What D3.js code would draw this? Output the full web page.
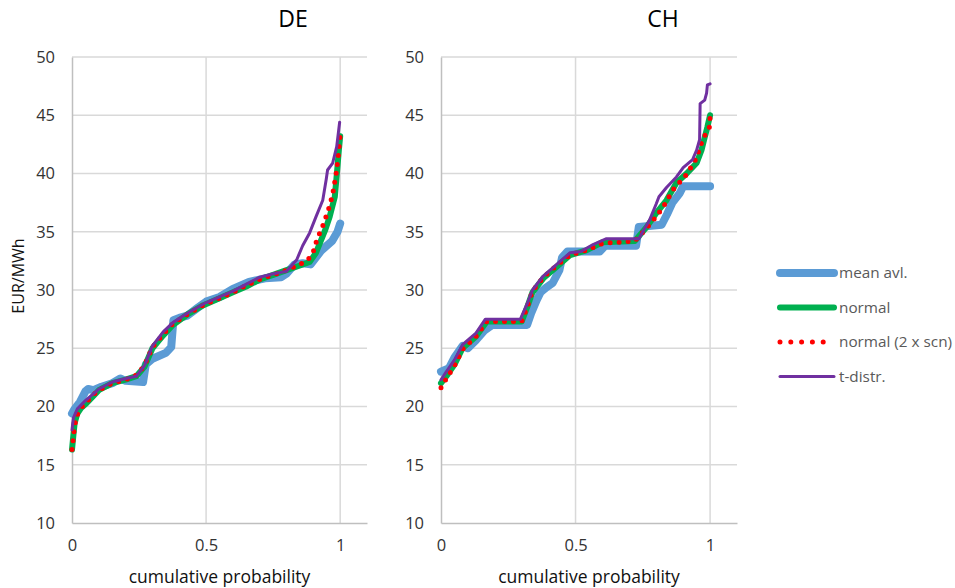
<!DOCTYPE html>
<html>
<head>
<meta charset="utf-8">
<script src="https://cdn.jsdelivr.net/npm/d3@7"></script>
<style>
  html, body { margin: 0; padding: 0; background: #fff; }
  svg { display: block; font-family: "Open Sans", "Noto Sans", sans-serif; }
</style>
</head>
<body>
<div id="chart"></div>
<script>
// cumulative probability vs price, [p, EUR/MWh]
const deMean = [[0,19.4],[0.01,19.8],[0.03,20.4],[0.05,21.3],[0.06,21.5],[0.08,21.4],[0.11,21.7],[0.15,22.0],[0.18,22.4],[0.2,22.2],[0.265,22.1],[0.275,23.6],[0.3,24.1],[0.35,24.6],[0.37,25.1],[0.378,27.4],[0.4,27.6],[0.43,27.8],[0.47,28.5],[0.5,29.0],[0.55,29.4],[0.6,30.1],[0.66,30.7],[0.72,31.0],[0.78,31.1],[0.8,31.4],[0.83,32.2],[0.86,32.3],[0.89,32.2],[0.93,33.4],[0.97,34.2],[0.99,35.0],[1.0,35.7]]
const deNormal = [[0,16.3],[0.005,17.5],[0.01,18.6],[0.02,19.4],[0.035,19.9],[0.055,20.3],[0.08,20.9],[0.1,21.4],[0.15,22.0],[0.2,22.3],[0.24,22.6],[0.27,23.4],[0.3,25.0],[0.34,26.1],[0.376,27.0],[0.43,27.9],[0.49,28.7],[0.55,29.3],[0.6,29.8],[0.65,30.3],[0.7,30.9],[0.75,31.3],[0.8,31.7],[0.85,32.1],[0.886,32.4],[0.91,33.2],[0.924,34.0],[0.945,35.2],[0.961,36.3],[0.98,38.0],[0.99,40.6],[0.995,42.0],[1.0,43.2]]
const deNormal2 = [[0,16.3],[0.005,17.3],[0.01,18.4],[0.02,19.3],[0.035,19.9],[0.055,20.4],[0.08,21.0],[0.1,21.4],[0.15,22.0],[0.2,22.3],[0.24,22.7],[0.27,23.5],[0.3,25.1],[0.34,26.2],[0.376,27.1],[0.43,27.9],[0.49,28.7],[0.55,29.3],[0.6,29.8],[0.65,30.4],[0.7,30.9],[0.75,31.3],[0.8,31.7],[0.85,32.2],[0.88,32.6],[0.9,33.3],[0.913,34.3],[0.935,35.5],[0.955,36.8],[0.972,38.2],[0.985,40.0],[0.993,41.5],[1.0,43.3]]
const deT = [[0,18.0],[0.005,19.0],[0.02,19.8],[0.05,20.5],[0.1,21.5],[0.15,22.1],[0.2,22.4],[0.24,22.6],[0.27,23.5],[0.3,25.2],[0.34,26.4],[0.376,27.2],[0.43,28.0],[0.49,28.8],[0.55,29.4],[0.6,29.9],[0.65,30.5],[0.7,31.1],[0.75,31.4],[0.8,31.6],[0.838,32.6],[0.86,33.8],[0.886,34.9],[0.91,36.3],[0.935,37.7],[0.948,39.5],[0.953,40.3],[0.972,40.9],[0.987,42.3],[0.998,44.4]]

const chMean = [[0,23.0],[0.03,23.3],[0.05,24.2],[0.08,25.2],[0.1,25.0],[0.13,25.7],[0.16,26.5],[0.19,27.0],[0.32,27.0],[0.335,28.0],[0.355,29.1],[0.37,29.8],[0.39,30.2],[0.415,30.6],[0.44,31.7],[0.45,32.8],[0.47,33.3],[0.59,33.3],[0.61,33.8],[0.725,33.8],[0.735,35.4],[0.82,35.6],[0.84,36.5],[0.86,37.5],[0.887,38.3],[0.9,38.9],[1.0,38.9]]
const chNormal = [[0,22.0],[0.02,22.6],[0.05,23.6],[0.08,25.0],[0.13,26.0],[0.17,27.3],[0.3,27.3],[0.32,28.5],[0.34,29.8],[0.38,31.0],[0.43,32.0],[0.48,33.0],[0.54,33.4],[0.6,34.1],[0.72,34.2],[0.764,35.4],[0.8,36.6],[0.838,37.7],[0.875,39.2],[0.913,40.0],[0.95,40.9],[0.968,42.0],[0.98,43.1],[0.99,44.0],[1.0,45.0]]
const chNormal2 = [[0,21.6],[0.02,22.4],[0.05,23.5],[0.08,24.9],[0.13,26.0],[0.17,27.3],[0.3,27.3],[0.32,28.5],[0.34,29.9],[0.38,31.1],[0.43,32.1],[0.48,33.0],[0.54,33.4],[0.6,34.0],[0.72,34.2],[0.783,35.8],[0.825,37.1],[0.862,38.6],[0.912,39.9],[0.949,41.3],[0.972,42.9],[0.998,44.0],[1.0,44.9]]
const chT = [[0,22.3],[0.02,23.0],[0.05,24.0],[0.08,25.3],[0.13,26.3],[0.165,27.5],[0.295,27.5],[0.32,28.8],[0.34,30.0],[0.38,31.2],[0.43,32.2],[0.48,33.2],[0.52,33.3],[0.565,33.9],[0.615,34.4],[0.735,34.4],[0.775,36.0],[0.8,37.4],[0.81,38.0],[0.838,38.8],[0.875,39.7],[0.9,40.5],[0.935,41.2],[0.95,42.0],[0.961,42.9],[0.963,46.0],[0.98,46.3],[0.987,46.9],[0.99,47.6],[1.0,47.7]]

const xTicks = [0, 0.5, 1]
const yTicks = [10, 15, 20, 25, 30, 35, 40, 45, 50]
const seriesNames = ['mean avl.', 'normal', 'normal (2 x scn)', 't-distr.']

const panels = [
  { title: 'DE', left: 72, right: 367, titleX: 293, data: [deMean, deNormal, deNormal2, deT] },
  { title: 'CH', left: 441, right: 737, titleX: 663, data: [chMean, chNormal, chNormal2, chT] }
]

const styles = [
  { color: '#5b9bd5', width: 8, dash: null },
  { color: '#00b050', width: 6, dash: null },
  { color: '#ff0000', width: 5, dash: '0 9' },
  { color: '#7030a0', width: 3, dash: null }
]

const width = 955, height = 588
const plotTop = 57, plotBottom = 523

const svg = d3.select('#chart').append('svg')
  .attr('width', width).attr('height', height)

const y = d3.scaleLinear().domain([10, 50]).range([plotBottom, plotTop])

panels.forEach(p => {
  const x = d3.scaleLinear().domain([0, 1.1]).range([p.left, p.right])
  const g = svg.append('g')

  // gridlines
  g.append('g').selectAll('line.h')
    .data(yTicks.filter(t => t > 10)).join('line')
    .attr('x1', p.left).attr('x2', p.right)
    .attr('y1', d => y(d)).attr('y2', d => y(d))
    .attr('stroke', '#d9d9d9').attr('stroke-width', 1.5)
  g.append('g').selectAll('line.v')
    .data(xTicks.filter(t => t > 0)).join('line')
    .attr('x1', d => x(d)).attr('x2', d => x(d))
    .attr('y1', plotTop).attr('y2', plotBottom)
    .attr('stroke', '#d9d9d9').attr('stroke-width', 1.5)

  // axes
  const yAxis = g.append('g')
    .attr('transform', 'translate(' + p.left + ',0)')
    .call(d3.axisLeft(y).tickValues(yTicks).tickSize(0).tickPadding(17))
  const xAxis = g.append('g')
    .attr('transform', 'translate(0,' + plotBottom + ')')
    .call(d3.axisBottom(x).tickValues(xTicks).tickSize(0).tickPadding(16).tickFormat(d3.format('')))
  ;[yAxis, xAxis].forEach(a => {
    a.select('.domain').attr('stroke', '#bfbfbf').attr('stroke-width', 1.5)
    a.selectAll('text').attr('fill', '#333').attr('font-size', '16.5px')
      .attr('font-family', '"Open Sans", sans-serif')
  })

  // titles
  g.append('text')
    .attr('x', p.titleX).attr('y', 27)
    .attr('text-anchor', 'middle')
    .attr('font-size', '23px').attr('fill', '#000')
    .text(p.title)
  g.append('text')
    .attr('x', (p.left + p.right) / 2).attr('y', 583)
    .attr('text-anchor', 'middle')
    .attr('font-size', '17.5px').attr('fill', '#111')
    .text('cumulative probability')

  // series
  const line = d3.line().x(d => x(d[0])).y(d => y(d[1]))
  p.data.forEach((s, i) => {
    const st = styles[i]
    g.append('path')
      .datum(s)
      .attr('d', line)
      .attr('fill', 'none')
      .attr('stroke', st.color)
      .attr('stroke-width', st.width)
      .attr('stroke-linecap', 'round')
      .attr('stroke-linejoin', 'round')
      .attr('stroke-dasharray', st.dash)
  })
})

// y axis title
svg.append('text')
  .attr('transform', 'translate(24,276) rotate(-90)')
  .attr('text-anchor', 'middle')
  .attr('font-size', '16px').attr('fill', '#111')
  .text('EUR/MWh')

// legend
const legend = svg.append('g')
seriesNames.forEach((name, i) => {
  const st = styles[i]
  const ly = 273 + i * 34.5
  legend.append('line')
    .attr('x1', 780).attr('x2', 834)
    .attr('y1', ly).attr('y2', ly)
    .attr('stroke', st.color)
    .attr('stroke-width', st.width)
    .attr('stroke-linecap', 'round')
    .attr('stroke-dasharray', st.dash === null ? null : '0 10.8')
  legend.append('text')
    .attr('x', 839).attr('y', ly)
    .attr('dy', '0.35em')
    .attr('font-size', '15.3px').attr('fill', '#595959')
    .text(name)
})
</script>
</body>
</html>
